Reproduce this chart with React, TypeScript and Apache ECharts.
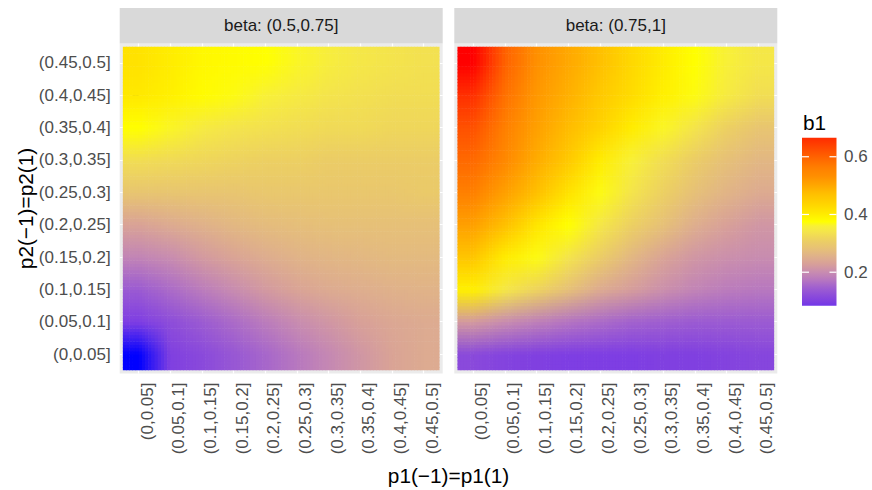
import React, { useEffect, useRef } from "react";
import * as echarts from "echarts";

// ---------- data ----------
const p1Categories = ["(0,0.05]", "(0.05,0.1]", "(0.1,0.15]", "(0.15,0.2]", "(0.2,0.25]", "(0.25,0.3]", "(0.3,0.35]", "(0.35,0.4]", "(0.4,0.45]", "(0.45,0.5]"];
const p2Categories = ["(0,0.05]", "(0.05,0.1]", "(0.1,0.15]", "(0.15,0.2]", "(0.2,0.25]", "(0.25,0.3]", "(0.3,0.35]", "(0.35,0.4]", "(0.4,0.45]", "(0.45,0.5]"];
const facetLabels = ["beta: (0.5,0.75]", "beta: (0.75,1]"];

// rows follow p2Categories (ascending), columns follow p1Categories
const b1BetaLow: number[][] = [
  [0.02, 0.1, 0.115, 0.135, 0.155, 0.175, 0.195, 0.215, 0.235, 0.245],
  [0.095, 0.12, 0.14, 0.16, 0.18, 0.2, 0.215, 0.23, 0.24, 0.245],
  [0.14, 0.16, 0.18, 0.2, 0.22, 0.235, 0.245, 0.25, 0.255, 0.258],
  [0.19, 0.2, 0.22, 0.235, 0.248, 0.258, 0.263, 0.266, 0.27, 0.27],
  [0.233, 0.245, 0.255, 0.266, 0.273, 0.277, 0.28, 0.28, 0.28, 0.28],
  [0.29, 0.29, 0.29, 0.29, 0.295, 0.295, 0.295, 0.295, 0.295, 0.3],
  [0.33, 0.325, 0.32, 0.315, 0.31, 0.31, 0.305, 0.305, 0.305, 0.305],
  [0.375, 0.365, 0.35, 0.34, 0.335, 0.33, 0.325, 0.325, 0.32, 0.32],
  [0.405, 0.395, 0.38, 0.37, 0.36, 0.35, 0.34, 0.335, 0.33, 0.33],
  [0.415, 0.4, 0.385, 0.38, 0.375, 0.365, 0.355, 0.345, 0.34, 0.335],
];
const b1BetaHigh: number[][] = [
  [0.115, 0.105, 0.1, 0.095, 0.095, 0.095, 0.1, 0.1, 0.105, 0.11],
  [0.22, 0.2, 0.185, 0.17, 0.16, 0.15, 0.145, 0.14, 0.14, 0.14],
  [0.395, 0.345, 0.315, 0.28, 0.245, 0.225, 0.205, 0.19, 0.18, 0.175],
  [0.46, 0.4, 0.37, 0.34, 0.305, 0.265, 0.235, 0.215, 0.205, 0.2],
  [0.51, 0.47, 0.41, 0.375, 0.345, 0.31, 0.28, 0.25, 0.23, 0.215],
  [0.56, 0.51, 0.47, 0.415, 0.37, 0.34, 0.31, 0.28, 0.26, 0.245],
  [0.59, 0.545, 0.495, 0.455, 0.4, 0.36, 0.33, 0.305, 0.28, 0.265],
  [0.62, 0.56, 0.51, 0.475, 0.44, 0.4, 0.365, 0.34, 0.31, 0.29],
  [0.66, 0.58, 0.52, 0.49, 0.455, 0.425, 0.395, 0.37, 0.35, 0.33],
  [0.72, 0.6, 0.53, 0.5, 0.47, 0.43, 0.4, 0.375, 0.36, 0.345],
];
const legendTicks = [0.2, 0.4, 0.6];
const legendRange = [0.084, 0.666];

const colorStops: [number, string][] = [
  [0.02, "#0000FF"], [0.09, "#7C3CE6"], [0.1, "#8040E0"], [0.125, "#9050D8"], [0.15, "#A262CE"],
  [0.17, "#B474C2"], [0.2, "#C88CB0"], [0.23, "#D8A098"], [0.25, "#DEAE8E"], [0.28, "#E6C078"],
  [0.305, "#EBCC66"], [0.34, "#F4E44C"], [0.36, "#F8F038"], [0.375, "#FFFF00"], [0.4, "#FFEC00"],
  [0.43, "#FFD800"], [0.47, "#FFC000"], [0.5, "#FFA800"], [0.53, "#FF9000"], [0.56, "#FF8000"],
  [0.6, "#FF6200"], [0.66, "#FF3000"], [0.72, "#FF0000"],
];

// ---------- helpers ----------
type RGB = [number, number, number];
const hexToRgb = (h: string): RGB => [parseInt(h.slice(1, 3), 16), parseInt(h.slice(3, 5), 16), parseInt(h.slice(5, 7), 16)];
const stopRgb = colorStops.map(([v, c]) => [v, hexToRgb(c)] as [number, RGB]);
function valueToRgb(v: number): RGB {
  if (v <= stopRgb[0][0]) return stopRgb[0][1];
  for (let i = 1; i < stopRgb.length; i++) {
    const [v1, c1] = stopRgb[i];
    if (v <= v1) {
      const [v0, c0] = stopRgb[i - 1];
      const t = (v - v0) / (v1 - v0);
      return [c0[0] + (c1[0] - c0[0]) * t, c0[1] + (c1[1] - c0[1]) * t, c0[2] + (c1[2] - c0[2]) * t];
    }
  }
  return stopRgb[stopRgb.length - 1][1];
}
const rgbStr = (c: RGB) => `rgb(${Math.round(c[0])},${Math.round(c[1])},${Math.round(c[2])})`;

const FONT = "'Liberation Sans', Arial, Helvetica, sans-serif";
const SUB = 10;

function makeRenderItem(grid: number[][]) {
  const rows = grid.length;
  const cols = grid[0].length;
  const cc = grid.map((r) => r.map((v) => valueToRgb(v)));
  const clamp = (a: number, lo: number, hi: number) => Math.max(lo, Math.min(hi, a));
  const sample = (fx: number, fy: number): RGB => {
    const x = clamp(fx, 0, cols - 1);
    const y = clamp(fy, 0, rows - 1);
    const x0 = Math.min(Math.floor(x), cols - 2);
    const y0 = Math.min(Math.floor(y), rows - 2);
    const tx = x - x0;
    const ty = y - y0;
    const out: RGB = [0, 0, 0];
    for (let k = 0; k < 3; k++) {
      const a = cc[y0][x0][k] * (1 - tx) + cc[y0][x0 + 1][k] * tx;
      const b = cc[y0 + 1][x0][k] * (1 - tx) + cc[y0 + 1][x0 + 1][k] * tx;
      out[k] = a * (1 - ty) + b * ty;
    }
    return out;
  };
  return (_params: any, api: any) => {
    const xi = api.value(0);
    const yi = api.value(1);
    const children: any[] = [];
    for (let s = 0; s < SUB; s++) {
      for (let t = 0; t < SUB; t++) {
        const pA = api.coord([xi - 0.5 + s / SUB, yi - 0.5 + (t + 1) / SUB]);
        const pB = api.coord([xi - 0.5 + (s + 1) / SUB, yi - 0.5 + t / SUB]);
        const c = sample(xi - 0.5 + (s + 0.5) / SUB, yi - 0.5 + (t + 0.5) / SUB);
        const lastX = xi === cols - 1 && s === SUB - 1;
        const lastY = yi === 0 && t === 0;
        children.push({
          type: "rect",
          shape: {
            x: pA[0],
            y: pA[1],
            width: pB[0] - pA[0] + (lastX ? 0 : 0.6),
            height: pB[1] - pA[1] + (lastY ? 0 : 0.6),
          },
          style: { fill: rgbStr(c) },
        });
      }
    }
    return { type: "group", children, silent: true };
  };
}

// ---------- layout ----------
const PANEL_LEFT = [119.7, 454.3];
const PANEL_W = 323;
const PANEL_TOP = 43.5;
const PANEL_H = 330;
const STRIP_TOP = 8;
const TICK_FONT = 17;

const LEG = { x: 802, y: 137.7, w: 34.5, h: 168 };

export default function App() {
  const ref = useRef<HTMLDivElement>(null);
  useEffect(() => {
    if (!ref.current) return;
    const chart = echarts.init(ref.current, undefined, { renderer: "svg" });
    const idx = p1Categories.map((_, i) => i);
    const grids = [b1BetaLow, b1BetaHigh];

    const legY = (v: number) => LEG.y + LEG.h - ((v - legendRange[0]) / (legendRange[1] - legendRange[0])) * LEG.h;
    const gradStops: any[] = [];
    for (let i = 0; i <= 40; i++) {
      const v = legendRange[0] + ((legendRange[1] - legendRange[0]) * i) / 40;
      gradStops.push({ offset: i / 40, color: rgbStr(valueToRgb(v)) });
    }

    const graphic: any[] = [];
    facetLabels.forEach((lab, i) => {
      graphic.push({
        type: "rect",
        shape: { x: PANEL_LEFT[i], y: STRIP_TOP, width: PANEL_W, height: PANEL_TOP - STRIP_TOP },
        style: { fill: "#D9D9D9" },
        silent: true,
      });
      graphic.push({
        type: "text",
        x: PANEL_LEFT[i] + PANEL_W / 2,
        y: (STRIP_TOP + PANEL_TOP) / 2,
        style: { text: lab, fontSize: TICK_FONT, fontFamily: FONT, fill: "#1A1A1A", textAlign: "center", textVerticalAlign: "middle" },
        silent: true,
      });
    });
    graphic.push({
      type: "text",
      x: (PANEL_LEFT[0] + PANEL_LEFT[1] + PANEL_W) / 2,
      y: 475,
      style: { text: "p1(\u22121)=p1(1)", fontSize: 20.8, fontFamily: FONT, fill: "#000", textAlign: "center", textVerticalAlign: "middle" },
      silent: true,
    });
    graphic.push({
      type: "text",
      x: 25.5,
      y: PANEL_TOP + PANEL_H / 2,
      rotation: Math.PI / 2,
      style: { text: "p2(\u22121)=p2(1)", fontSize: 20.8, fontFamily: FONT, fill: "#000", textAlign: "center", textVerticalAlign: "middle" },
      silent: true,
    });
    // legend
    graphic.push({
      type: "text",
      x: LEG.x + 1,
      y: 122,
      style: { text: "b1", fontSize: 20.8, fontFamily: FONT, fill: "#000", textAlign: "left", textVerticalAlign: "middle" },
      silent: true,
    });
    graphic.push({
      type: "rect",
      shape: { x: LEG.x, y: LEG.y, width: LEG.w, height: LEG.h },
      style: { fill: { type: "linear", x: 0, y: 1, x2: 0, y2: 0, colorStops: gradStops } },
      silent: true,
    });
    legendTicks.forEach((v) => {
      const y = legY(v);
      graphic.push({ type: "line", shape: { x1: LEG.x, y1: y, x2: LEG.x + 7, y2: y }, style: { stroke: "#FFFFFF", lineWidth: 1.2 }, silent: true });
      graphic.push({ type: "line", shape: { x1: LEG.x + LEG.w - 7, y1: y, x2: LEG.x + LEG.w, y2: y }, style: { stroke: "#FFFFFF", lineWidth: 1.2 }, silent: true });
      graphic.push({
        type: "text",
        x: 844,
        y,
        style: { text: String(v), fontSize: TICK_FONT, fontFamily: FONT, fill: "#4D4D4D", textAlign: "left", textVerticalAlign: "middle" },
        silent: true,
      });
    });

    const axisCommon = (cats: string[], showLabel: boolean, isX: boolean) => ({
      type: "value",
      min: -0.6,
      max: 9.6,
      axisLine: { show: false },
      axisTick: { show: showLabel, customValues: idx, length: 6, lineStyle: { color: "#333333", width: 1.5 } },
      axisLabel: {
        show: showLabel,
        customValues: idx,
        formatter: (v: number) => cats[Math.round(v)],
        color: "#4D4D4D",
        fontSize: TICK_FONT,
        fontFamily: FONT,
        margin: 9,
        ...(isX ? { rotate: 90, verticalAlign: "top" } : {}),
      },
      splitLine: { show: true, lineStyle: { color: "#FFFFFF", width: 1.2 } },
    });

    chart.setOption({
      animation: false,
      backgroundColor: "#FFFFFF",
      grid: PANEL_LEFT.map((l) => ({
        left: l,
        top: PANEL_TOP,
        width: PANEL_W,
        height: PANEL_H,
        show: true,
        backgroundColor: "#EBEBEB",
        borderWidth: 0,
        containLabel: false,
        outerBoundsMode: "none",
      })),
      xAxis: [0, 1].map((i) => ({ gridIndex: i, ...axisCommon(p1Categories, true, true) })),
      yAxis: [0, 1].map((i) => ({ gridIndex: i, ...axisCommon(p2Categories, i === 0, false) })),
      series: grids.map((g, gi) => ({
        type: "custom",
        xAxisIndex: gi,
        yAxisIndex: gi,
        silent: true,
        clip: true,
        renderItem: makeRenderItem(g),
        data: g.flatMap((row, yi) => row.map((v, xi) => [xi, yi, v])),
      })),
      graphic,
    });
    return () => chart.dispose();
  }, []);
  return <div ref={ref} style={{ position: "fixed", left: 0, top: 0, width: 872, height: 490 }} />;
}
